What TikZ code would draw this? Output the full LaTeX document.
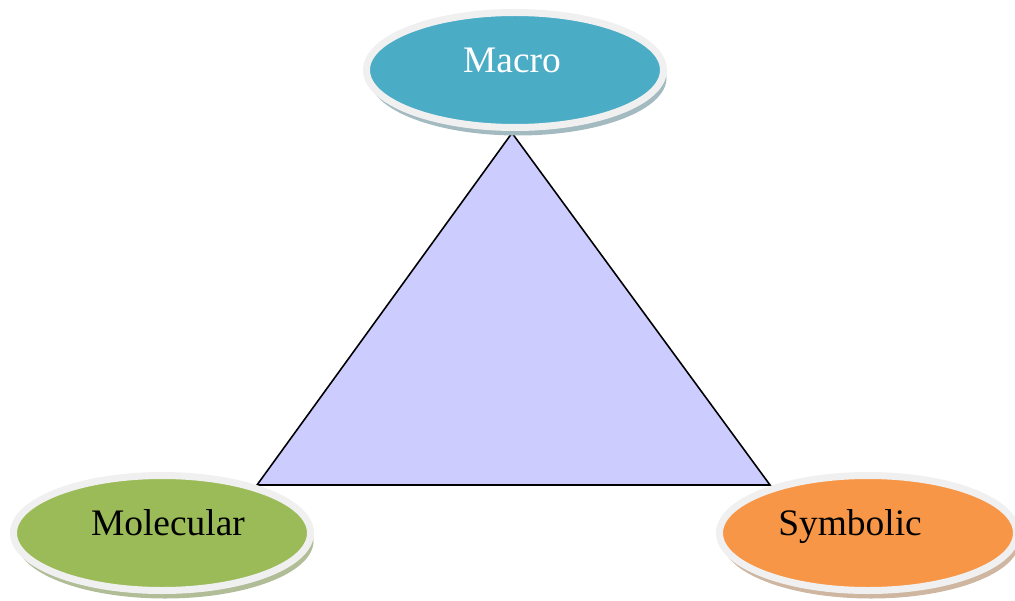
\documentclass[tikz,border=0pt]{standalone}
\usepackage{fontspec}
\setmainfont{Liberation Serif}
\usepackage{xcolor}
\usetikzlibrary{shapes.geometric,shadows}

\definecolor{macrofill}{HTML}{4BACC6}
\definecolor{molfill}{HTML}{9BBB59}
\definecolor{symfill}{HTML}{F79646}
\definecolor{rimgray}{HTML}{F0F0F0}
\definecolor{trifill}{HTML}{CCCCFF}

\tikzset{
  blob/.style={ellipse,inner sep=0pt,minimum width=5.94cm,minimum height=2.3cm,
    draw=rimgray,line width=0.14cm},
  blobshadow/.style={general shadow={shadow xshift=0.06cm,shadow yshift=-0.16cm,fill=#1}},
  lbl/.style={anchor=base,font=\fontsize{21.3}{25}\selectfont}
}

\begin{document}
\begin{tikzpicture}[scale=1]
            \useasboundingbox (0,0) rectangle (20.3,12);

            \coordinate (t) at (10.24,9.34);
            \coordinate (l) at (5.14,2.3);
            \coordinate (r) at (15.4,2.3);

            \filldraw[fill=trifill,draw=black,line width=0.9pt] (t) -- (l) -- (r) -- cycle;

            \node (mac) at (10.3,10.6) [blob,fill=macrofill,blobshadow={black!10!macrofill!45!gray!60}] {};
            \node (mol) at (3.24,1.34) [blob,fill=molfill,blobshadow={molfill!55!gray!70}] {};
            \node (sym) at (17.36,1.34) [blob,fill=symfill,blobshadow={symfill!50!brown!50!gray!60}] {};

            \node (macl) at ([xshift=-0.06cm,yshift=-0.06cm]mac.center) [lbl,text=white] {Macro};
            \node (moll) at ([xshift=0.12cm,yshift=-0.04cm]mol.center) [lbl] {Molecular};
            \node (syml) at ([xshift=-0.36cm,yshift=-0.04cm]sym.center) [lbl] {Symbolic};

        \end{tikzpicture}
\end{document}
